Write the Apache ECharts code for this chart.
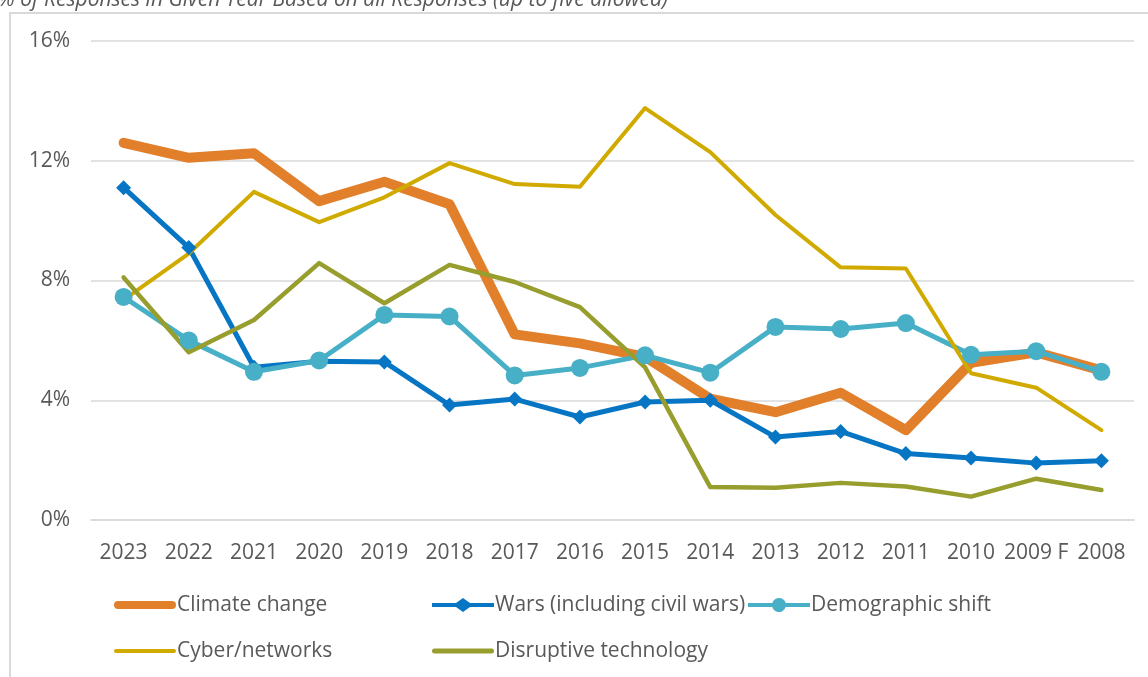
<!DOCTYPE html>
<html>
<head>
<meta charset="utf-8">
<script src="https://cdn.jsdelivr.net/npm/echarts@6/dist/echarts.min.js"></script>
<style>
html, body { margin: 0; padding: 0; background: #fff; }
#chart { width: 1148px; height: 677px; }
</style>
</head>
<body>
<div id="chart"></div>
<script>
var years = ['2023', '2022', '2021', '2020', '2019', '2018', '2017', '2016', '2015', '2014', '2013', '2012', '2011', '2010', '2009 F', '2008'];

// % of responses
var climateChange = [12.6, 12.1, 12.25, 10.65, 11.3, 10.55, 6.2, 5.9, 5.45, 4.05, 3.6, 4.25, 3.0, 5.25, 5.6, 5.0];
var wars = [11.1, 9.1, 5.1, 5.3, 5.28, 3.84, 4.04, 3.44, 3.94, 4.0, 2.77, 2.96, 2.22, 2.07, 1.9, 1.98];
var demographic = [7.45, 6.0, 4.95, 5.33, 6.85, 6.8, 4.83, 5.08, 5.5, 4.92, 6.45, 6.38, 6.58, 5.52, 5.64, 4.95];
var cyber = [7.35, 8.9, 10.96, 9.95, 10.78, 11.92, 11.22, 11.13, 13.76, 12.29, 10.19, 8.44, 8.4, 4.9, 4.42, 3.0];
var disruptive = [8.1, 5.6, 6.68, 8.58, 7.24, 8.52, 7.95, 7.11, 5.1, 1.1, 1.08, 1.24, 1.12, 0.78, 1.38, 1.0];

var yTicks = [0, 4, 8, 12, 16];

var font = '"Open Sans", sans-serif';
var grey = '#595959';
var colors = {
	climate: '#e17f2b',
	wars: '#0676c4',
	demo: '#47afc6',
	cyber: '#d1aa00',
	disrupt: '#979e2e'
};

// legend icons drawn like the Excel ones: a bar, optionally with a marker in the middle
var barIcon = function(h) {
	var r = h / 2;
	return 'path://M' + r + ',0H' + (62 - r) + 'A' + r + ',' + r + ' 0 0 1 ' + (62 - r) + ',' + h +
		'H' + r + 'A' + r + ',' + r + ' 0 0 1 ' + r + ',0Z';
};
var diamondIcon = 'path://M0,5H24L31,0L38,5H62V9H38L31,14L24,9H0Z';
var circleIcon = 'path://M0,5H24.3A7,7 0 0 1 37.7,5H62V9H37.7A7,7 0 0 1 24.3,9H0Z';

var legendText = { fontSize: 21, fontFamily: font, color: grey, padding: [0, 0, 0, -4], lineHeight: 22 };

var myChart = echarts.init(document.getElementById('chart'));

myChart.setOption({
	backgroundColor: '#ffffff',
	animation: false,
	textStyle: { fontFamily: font },
	title: {
		text: '% of Responses in Given Year Based on all Responses (up to five allowed)',
		left: -2,
		top: -10,
		padding: 0,
		textStyle: {
			fontFamily: font,
			fontStyle: 'italic',
			fontWeight: 'normal',
			fontSize: 21,
			color: grey
		}
	},
	graphic: [{
		type: 'rect',
		shape: { x: 10, y: 13, width: 1200, height: 700 },
		style: { fill: 'none', stroke: '#d9d9d9', lineWidth: 2 },
		silent: true
	}],
	grid: { left: 91, right: 14, top: 41, bottom: 157 },
	xAxis: {
		type: 'category',
		data: years,
		boundaryGap: true,
		axisLine: { show: true, lineStyle: { color: '#d9d9d9', width: 1.5 } },
		axisTick: { show: false },
		axisLabel: {
			interval: 0,
			margin: 23,
			fontSize: 21,
			fontFamily: font,
			color: grey
		}
	},
	yAxis: {
		type: 'value',
		min: yTicks[0],
		max: yTicks[yTicks.length - 1],
		interval: 4,
		axisLine: { show: false },
		axisTick: { show: false },
		splitLine: { lineStyle: { color: '#d9d9d9', width: 1.5 } },
		axisLabel: {
			margin: 21,
			fontSize: 21,
			fontFamily: font,
			color: grey,
			formatter: '{value}%'
		}
	},
	legend: [{
		orient: 'vertical',
		left: 114,
		top: 594,
		padding: 0,
		itemWidth: 62,
		itemHeight: 14,
		itemGap: 24,
		data: [
			{ name: 'Climate change', icon: barIcon(8), itemStyle: { color: colors.climate } },
			{ name: 'Cyber/networks', icon: barIcon(4), itemStyle: { color: colors.cyber } }
		],
		textStyle: legendText
	}, {
		orient: 'vertical',
		left: 432,
		top: 594,
		padding: 0,
		itemWidth: 62,
		itemHeight: 14,
		itemGap: 24,
		data: [
			{ name: 'Wars (including civil wars)', icon: diamondIcon, itemStyle: { color: colors.wars } },
			{ name: 'Disruptive technology', icon: barIcon(5), itemStyle: { color: colors.disrupt } }
		],
		textStyle: legendText
	}, {
		orient: 'vertical',
		left: 748,
		top: 594,
		padding: 0,
		itemWidth: 62,
		itemHeight: 14,
		data: [
			{ name: 'Demographic shift', icon: circleIcon, itemStyle: { color: colors.demo } }
		],
		textStyle: legendText
	}],
	series: [{
		name: 'Climate change',
		type: 'line',
		data: climateChange,
		symbol: 'none',
		color: colors.climate,
		lineStyle: { width: 10, color: colors.climate, cap: 'round', join: 'round' }
	}, {
		name: 'Wars (including civil wars)',
		type: 'line',
		data: wars,
		symbol: 'diamond',
		symbolSize: 15,
		color: colors.wars,
		itemStyle: { color: colors.wars },
		lineStyle: { width: 5, color: colors.wars, join: 'round' }
	}, {
		name: 'Demographic shift',
		type: 'line',
		data: demographic,
		symbol: 'circle',
		symbolSize: 18,
		color: colors.demo,
		itemStyle: { color: colors.demo },
		lineStyle: { width: 5, color: colors.demo, join: 'round' }
	}, {
		name: 'Cyber/networks',
		type: 'line',
		data: cyber,
		symbol: 'none',
		color: colors.cyber,
		lineStyle: { width: 4, color: colors.cyber, cap: 'round', join: 'round' }
	}, {
		name: 'Disruptive technology',
		type: 'line',
		data: disruptive,
		symbol: 'none',
		color: colors.disrupt,
		lineStyle: { width: 4.5, color: colors.disrupt, cap: 'round', join: 'round' }
	}]
});
</script>
</body>
</html>
